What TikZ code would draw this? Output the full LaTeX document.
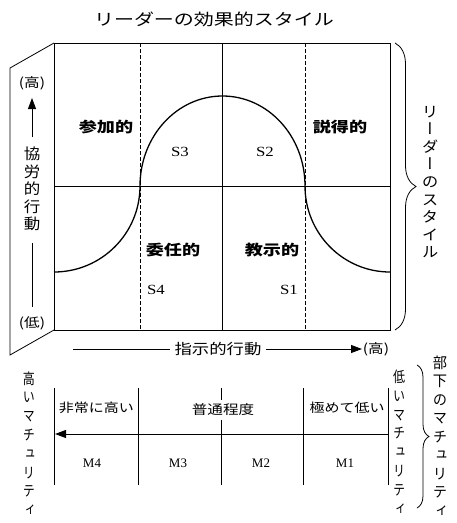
\documentclass[tikz,border=0pt]{standalone}
\usepackage{fontspec}
\usetikzlibrary{arrows.meta,decorations.pathreplacing}
\newfontfamily\jp[FakeStretch=1.2]{Noto Sans CJK JP}
\newfontfamily\jpwide[FakeStretch=1.25]{Noto Sans CJK JP}
\newfontfamily\jpv[RawFeature=+vert,FakeStretch=1.1]{Noto Sans CJK JP}
\newfontfamily\jpvn[RawFeature=+vert,FakeStretch=0.8]{Noto Sans CJK JP}
\newfontfamily\jpvm[RawFeature=+vert,FakeStretch=0.95]{Noto Sans CJK JP}
\newfontfamily\lser[FakeStretch=1.2]{Liberation Serif}
\newfontfamily\lsern{Liberation Serif}
\begin{document}
\begin{tikzpicture}[x=1pt,y=-1pt,line width=0.8pt,
  jlab/.style={font=\jp\fontsize{12.5}{15}\selectfont,inner sep=1pt},
  axlab/.style={font=\jp\fontsize{14.5}{16}\selectfont,inner sep=4pt},
  hllab/.style={font=\jp\fontsize{13}{15}\selectfont,inner sep=1pt},
  blab/.style={font=\jpwide\bfseries\fontsize{14.5}{16}\selectfont,inner sep=1pt},
  slab/.style={font=\lser\fontsize{14}{16}\selectfont,inner sep=1pt},
  mlab/.style={font=\lsern\fontsize{13}{16}\selectfont,inner sep=1pt},
  vtxt/.style={font=\jpv\fontsize{15}{17.6}\selectfont,align=center,inner sep=0pt},
  vnar/.style={font=\jpvn\fontsize{15}{18.8}\selectfont,align=center,inner sep=0pt},
  vmid/.style={font=\jpvm\fontsize{15}{18.5}\selectfont,align=center,inner sep=0pt},
  dashline/.style={dash pattern=on 3.5pt off 2.5pt},
  arr/.style={-{Triangle[length=11pt,width=8pt]}},
  curly/.style={decorate,decoration={brace,amplitude=#1}},
  bell/.style={line width=1.3pt}]
\useasboundingbox (0,0) rectangle (456,523);

% title
\node[font=\jpwide\fontsize{16}{18}\selectfont] (title) at (214,19) {リーダーの効果的スタイル};

% main box
\coordinate (TL) at (54,43);
\coordinate (TR) at (390,43);
\coordinate (BL) at (54,330);
\coordinate (BR) at (390,330);
\coordinate (PT) at (10,68);
\coordinate (PB) at (10,355);
\draw (TL) rectangle (BR);
\draw (TL) -- (PT) -- (PB) -- (BL);
\coordinate (MT) at (222,43);
\coordinate (MB) at (222,330);
\coordinate (HL) at (54,186);
\coordinate (HR) at (390,186);
\draw (MT) -- (MB);
\draw (HL) -- (HR);
\coordinate (D1T) at (140,43);
\coordinate (D1B) at (140,330);
\coordinate (D2T) at (305,43);
\coordinate (D2B) at (305,330);
\draw[dashline] (D1T) -- (D1B);
\draw[dashline] (D2T) -- (D2B);

% bell curve
\coordinate (CL) at (54,272);
\draw[bell] (CL) arc[start angle=-90,end angle=0,x radius=86pt,y radius=86pt]
  arc[start angle=180,end angle=0,x radius=82.5pt,y radius=90pt]
  arc[start angle=180,end angle=270,x radius=85pt,y radius=86pt];

% quadrant labels
\node[blab] (sanka) at (106,127) {参加的};
\node[blab] (settoku) at (340,127) {説得的};
\node[blab] (inin) at (173,250) {委任的};
\node[blab] (kyoji) at (272,250) {教示的};
\node[slab] (s3) at (180,152) {S3};
\node[slab] (s2) at (265,152) {S2};
\node[slab] (s4) at (156,290) {S4};
\node[slab] (s1) at (289,290) {S1};

% left vertical axis
\node[hllab] (hi) at (32,83) {(高)};
\node[hllab] (lo) at (32,323) {(低)};
\node[vtxt] (kyoro) at (32,189) {協\\労\\的\\行\\動};
\coordinate (VA1) at (32,137);
\coordinate (VA2) at (32,98);
\coordinate (VL1) at (32,243);
\coordinate (VL2) at (32,307);
\draw[arr] (VA1) -- (VA2);
\draw (VL1) -- (VL2);

% right brace and label
\coordinate (RB1) at (395,43);
\coordinate (RB2) at (395,330);
\draw[curly=21pt] (RB1) -- (RB2);
\node[vtxt] (style) at (430,182) {リ\\ー\\ダ\\ー\\の\\ス\\タ\\イ\\ル};

% horizontal axis
\node[axlab] (dir) at (218,349) {指示的行動};
\coordinate (HA0) at (73,349);
\coordinate (HA1) at (362,349);
\draw (HA0) -- (dir.west);
\draw[arr] (dir.east) -- (HA1);
\node[hllab] (hi2) at (376,349) {(高)};

% maturity scale
\foreach \xx/\nm in {54/a,138/b,221/c,303/d,388/e}{
  \coordinate (T\nm) at (\xx,388);
  \coordinate (B\nm) at (\xx,485);
  \draw (T\nm) -- (B\nm);
}
\node[jlab] (vhigh) at (96.5,408) {非常に高い};
\node[jlab,font=\jp\fontsize{13}{15}\selectfont,fill=white,inner sep=4pt] (normal) at (223,410) {普通程度};
\node[jlab] (vlow) at (347,408) {極めて低い};
\coordinate (AR1) at (388,434);
\coordinate (AR2) at (55,434);
\draw[arr,line width=1pt] (AR1) -- (AR2);
\node[mlab] (m4) at (92,463) {M4};
\node[mlab] (m3) at (178,463) {M3};
\node[mlab] (m2) at (261,463) {M2};
\node[mlab] (m1) at (345,463) {M1};

\node[vnar] (highm) at (29,443.5) {高\\い\\マ\\チ\\ュ\\リ\\テ\\ィ};
\node[vnar] (lowm) at (399,442) {低\\い\\マ\\チ\\ュ\\リ\\テ\\ィ};
\coordinate (LB1) at (417,365);
\coordinate (LB2) at (417,508);
\draw[curly=12pt] (LB1) -- (LB2);
\node[vmid] (subm) at (440,436) {部\\下\\の\\マ\\チ\\ュ\\リ\\テ\\ィ};
\end{tikzpicture}
\end{document}
